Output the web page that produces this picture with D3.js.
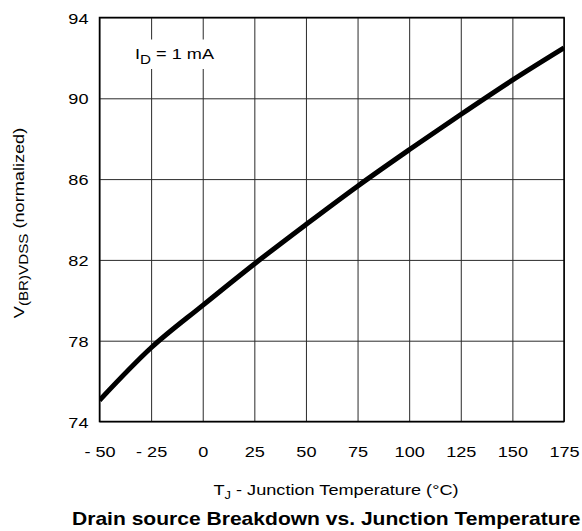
<!DOCTYPE html>
<html>
<head>
<meta charset="utf-8">
<script src="https://cdn.jsdelivr.net/npm/d3@7"></script>
<style>
  html, body { margin: 0; padding: 0; background: #fff; }
  svg { display: block; }
  text { font-family: "Liberation Sans", Arial, Helvetica, sans-serif; fill: #000; }
</style>
</head>
<body>
<svg id="chart" width="582" height="531"></svg>
<script>
// ---- data ----
const temperatures = [-50, -25, 0, 25, 50, 75, 100, 125, 150, 175];
const breakdown = [75.05, 77.65, 79.75, 81.8, 83.75, 85.65, 87.45, 89.2, 90.9, 92.5];
const xTicks = [-50, -25, 0, 25, 50, 75, 100, 125, 150, 175];
const yTicks = [74, 78, 82, 86, 90, 94];
const xTitle = "Junction Temperature (°C)";
const chartTitle = "Drain source Breakdown vs. Junction Temperature";
const annotation = "= 1 mA";

// ---- layout ----
const W = 582, H = 531;
const L = 99.5, R = 564, T = 17.5, B = 421.5;
const SX = 1.17; // horizontal stretch of the reference typography

const svg = d3.select("#chart");
const x = d3.scaleLinear().domain([-50, 175]).range([L, R]);
const y = d3.scaleLinear().domain([74, 94]).range([B, T]);

// grid via axes
const gx = svg.append("g").attr("transform", `translate(0,${B})`)
  .call(d3.axisBottom(x).tickValues(xTicks).tickSize(-(B - T)).tickSizeOuter(0)
    .tickFormat(d => d < 0 ? "- " + Math.abs(d) : String(d)).tickPadding(0));
gx.select(".domain").remove();
gx.selectAll(".tick line").attr("stroke", "#2a2a2a").attr("stroke-width", 1);
gx.selectAll(".tick text")
  .attr("y", 0).attr("dy", 0)
  .attr("transform", `translate(0,35) scale(${SX},1)`)
  .style("font-size", "15.5px").attr("fill", "#000");

const gy = svg.append("g").attr("transform", `translate(${L},0)`)
  .call(d3.axisLeft(y).tickValues(yTicks).tickSize(-(R - L)).tickSizeOuter(0).tickPadding(0));
gy.select(".domain").remove();
gy.selectAll(".tick line").attr("stroke", "#2a2a2a").attr("stroke-width", 1);
gy.selectAll(".tick text")
  .attr("x", 0).attr("dy", "0.36em")
  .attr("transform", `translate(-11,0) scale(${SX},1)`)
  .style("font-size", "15.5px").attr("fill", "#000");

// annotation box (white background over grid)
const box = svg.append("g");
box.append("rect").attr("x", 128).attr("y", 39.5).attr("width", 98).attr("height", 29.5).attr("fill", "#fff");
const ann = box.append("text").attr("transform", `translate(135,59.3) scale(${SX},1)`).style("font-size", "15.5px");
ann.append("tspan").text("I");
ann.append("tspan").attr("dy", 4.5).style("font-size", "13px").text("D");
ann.append("tspan").attr("dy", -4.5).text(" " + annotation);

// frame
svg.append("rect").attr("x", L).attr("y", T).attr("width", R - L).attr("height", B - T)
  .attr("fill", "none").attr("stroke", "#000").attr("stroke-width", 1.5);

// curve
svg.append("clipPath").attr("id", "clip").append("rect")
  .attr("x", L).attr("y", T).attr("width", R - L).attr("height", B - T);
const line = d3.line().x((d, i) => x(temperatures[i])).y(d => y(d)).curve(d3.curveMonotoneX);
svg.append("path").datum(breakdown).attr("clip-path", "url(#clip)")
  .attr("d", line).attr("fill", "none").attr("stroke", "#000").attr("stroke-width", 5);

// x-axis title
const xt = svg.append("text").attr("transform", `translate(336,494.5) scale(${SX},1)`)
  .attr("text-anchor", "middle").style("font-size", "15.5px");
xt.append("tspan").text("T");
xt.append("tspan").attr("dy", 4.5).style("font-size", "11px").text("J");
xt.append("tspan").attr("dy", -4.5).text(" - " + xTitle);

// y-axis title
const yt = svg.append("text").attr("transform", `translate(23.5,223) rotate(-90) scale(${SX},1)`)
  .attr("text-anchor", "middle").style("font-size", "15.5px");
yt.append("tspan").text("V");
yt.append("tspan").attr("dy", 4.5).style("font-size", "13px").text("(BR)VDSS");
yt.append("tspan").attr("dy", -4.5).text(" (normalized)");

// chart title
svg.append("text").attr("transform", `translate(72,525) scale(${SX},1)`)
  .style("font-size", "18px").style("font-weight", "bold").text(chartTitle);
</script>
</body>
</html>
